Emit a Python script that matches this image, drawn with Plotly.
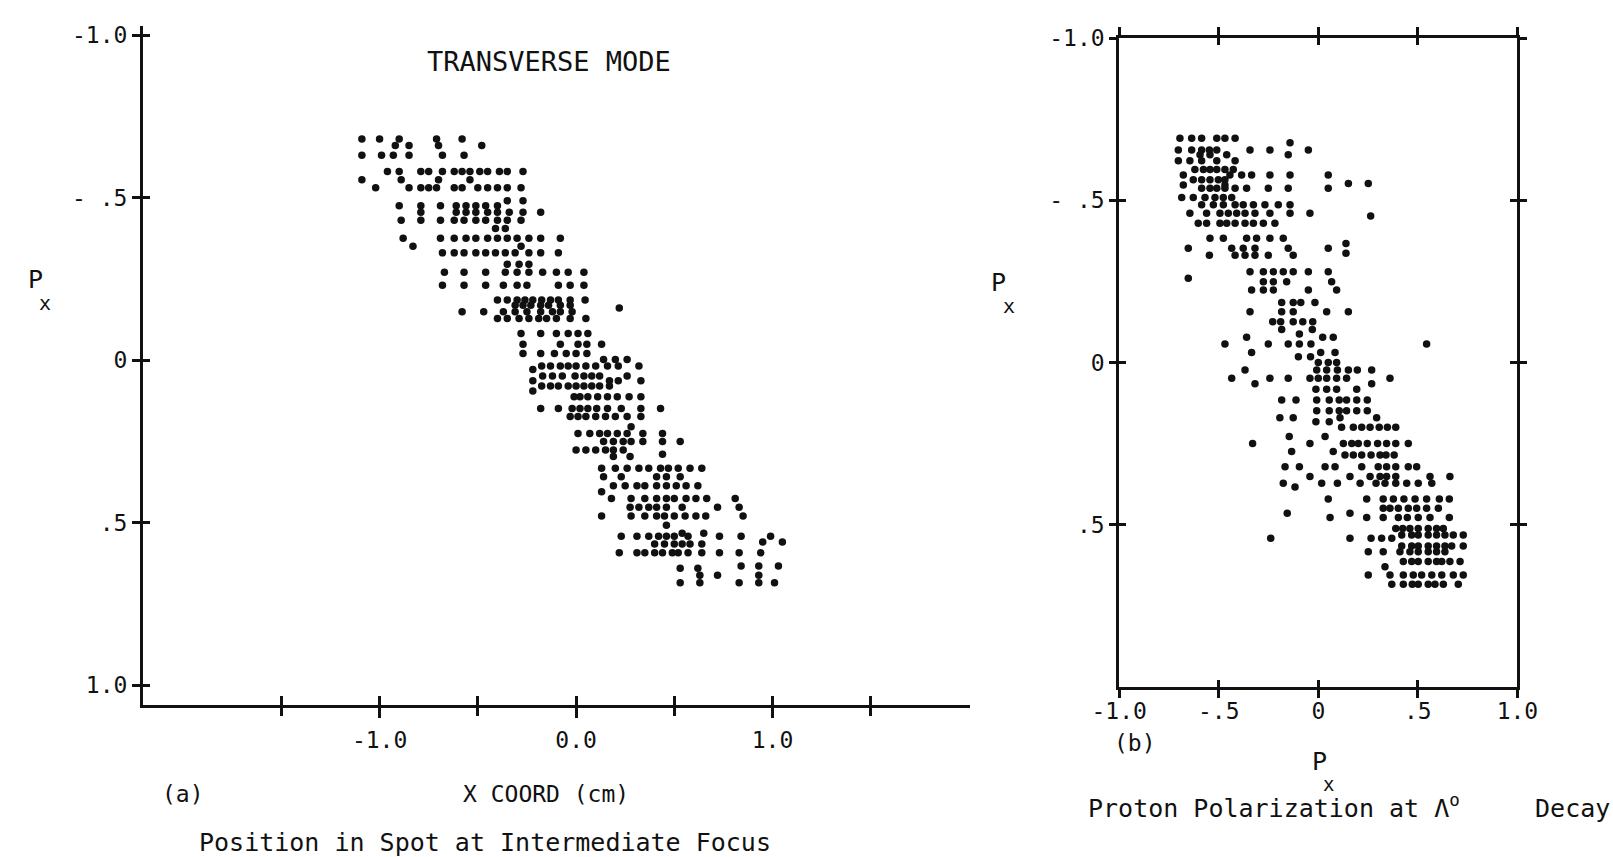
import plotly.graph_objects as go

FONT = "DejaVu Sans Mono"
INK = "#111111"

# ---- Panel (a): P_x versus X coordinate at the intermediate focus ----
# Each row: one P_x value and the X coordinates (cm) of the points on it.
left_row_px = [
    -0.68, -0.66, -0.63, -0.58, -0.555, -0.53, -0.49, -0.475, -0.455, -0.43,
    -0.405, -0.375, -0.35, -0.33, -0.295, -0.27, -0.23, -0.185, -0.169, -0.16,
    -0.149, -0.128, -0.082, -0.049, -0.020, -0.002, 0.018, 0.029, 0.049, 0.064,
    0.080, 0.095, 0.113, 0.149, 0.174, 0.205, 0.226, 0.251, 0.277, 0.290,
    0.297, 0.333, 0.359, 0.387, 0.405, 0.426, 0.453, 0.480, 0.508, 0.533,
    0.542, 0.56, 0.566, 0.593, 0.634, 0.641, 0.662, 0.685,
]
left_row_x = [
    [-1.09, -1.00, -0.90, -0.71, -0.58],
    [-0.92, -0.85, -0.70, -0.48],
    [-1.09, -0.99, -0.93, -0.85, -0.68, -0.57],
    [-0.96, -0.90, -0.79, -0.75, -0.68, -0.62, -0.58, -0.54, -0.49, -0.45, -0.39, -0.35, -0.27],
    [-1.09, -0.89, -0.70, -0.54],
    [-1.02, -0.85, -0.79, -0.75, -0.71, -0.62, -0.58, -0.50, -0.45, -0.40, -0.35, -0.28],
    [-0.35, -0.27],
    [-0.90, -0.79, -0.69, -0.61, -0.56, -0.51, -0.46, -0.40],
    [-0.79, -0.61, -0.56, -0.51, -0.45, -0.40, -0.34, -0.27, -0.18],
    [-0.89, -0.79, -0.69, -0.62, -0.57, -0.51, -0.46, -0.40, -0.35, -0.28],
    [-0.41, -0.36],
    [-0.88, -0.69, -0.62, -0.56, -0.51, -0.45, -0.40, -0.35, -0.30, -0.24, -0.18, -0.08],
    [-0.83, -0.28],
    [-0.68, -0.62, -0.57, -0.51, -0.46, -0.41, -0.36, -0.31, -0.24, -0.18, -0.09],
    [-0.35, -0.29, -0.24],
    [-0.67, -0.57, -0.46, -0.36, -0.30, -0.24, -0.17, -0.10, -0.04, 0.04],
    [-0.68, -0.57, -0.46, -0.37, -0.30, -0.25, -0.09, -0.03, 0.04],
    [-0.40, -0.35, -0.30, -0.26, -0.22, -0.175, -0.13, -0.09, -0.03, 0.046],
    [-0.31, -0.27, -0.23, -0.18, -0.14, -0.08, -0.03],
    [0.22],
    [-0.58, -0.47, -0.37, -0.31, -0.25, -0.18, -0.12, -0.08, -0.02],
    [-0.40, -0.35, -0.29, -0.24, -0.19, -0.15, -0.10, -0.03, 0.05],
    [-0.28, -0.18, -0.10, -0.04, 0.01, 0.06],
    [-0.27, -0.08, 0.01, 0.055, 0.13],
    [-0.27, -0.18, -0.11, -0.05, 0.00, 0.055],
    [0.14, 0.20, 0.26],
    [-0.175, -0.13, -0.08, -0.04, 0.00, 0.05, 0.10, 0.16, 0.215, 0.32],
    [-0.22],
    [-0.17, -0.12, -0.07, -0.005, 0.04, 0.08, 0.12, 0.26],
    [-0.22, 0.17, 0.215, 0.33],
    [-0.175, -0.13, -0.09, -0.04, 0.00, 0.04, 0.08, 0.12, 0.17],
    [-0.22],
    [-0.01, 0.02, 0.06, 0.11, 0.16, 0.21, 0.27, 0.33],
    [-0.18, -0.09, -0.02, 0.02, 0.06, 0.105, 0.16, 0.23, 0.33, 0.43],
    [-0.03, 0.01, 0.05, 0.10, 0.15, 0.20, 0.26, 0.33],
    [0.28],
    [0.01, 0.07, 0.12, 0.16, 0.21, 0.26, 0.34, 0.44],
    [0.14, 0.19, 0.24, 0.28, 0.34, 0.44, 0.53],
    [0.00, 0.05, 0.10, 0.15, 0.19, 0.24],
    [0.44],
    [0.19, 0.275],
    [0.13, 0.20, 0.26, 0.32, 0.37, 0.43, 0.47, 0.52, 0.58, 0.64],
    [0.14, 0.23, 0.41, 0.46, 0.53],
    [0.19, 0.25, 0.31, 0.35, 0.41, 0.46, 0.51, 0.56, 0.62],
    [0.13],
    [0.18, 0.28, 0.35, 0.41, 0.46, 0.50, 0.56, 0.61, 0.665, 0.81],
    [0.275, 0.32, 0.37, 0.41, 0.46, 0.54, 0.72, 0.83],
    [0.13, 0.28, 0.35, 0.41, 0.45, 0.50, 0.555, 0.61, 0.66, 0.85],
    [0.46],
    [0.54, 0.65],
    [0.23, 0.31, 0.37, 0.42, 0.46, 0.50, 0.57, 0.73, 0.84, 0.99],
    [0.95, 1.05],
    [0.40, 0.45, 0.50, 0.54, 0.58, 0.64],
    [0.22, 0.31, 0.35, 0.40, 0.44, 0.49, 0.52, 0.57, 0.64, 0.73, 0.83, 0.94],
    [0.84, 0.93, 1.03],
    [0.53, 0.62],
    [0.63, 0.72, 0.93],
    [0.53, 0.63, 0.83, 0.93, 1.01],
]

# ---- Panel (b): proton polarization P_x at the Lambda decay ----
right_row_py = [
    -0.691, -0.677, -0.655, -0.640, -0.622, -0.595, -0.578, -0.563, -0.552, -0.547,
    -0.537, -0.509, -0.486, -0.460, -0.452, -0.429, -0.383, -0.367, -0.352, -0.337,
    -0.331, -0.280, -0.260, -0.249, -0.224, -0.185, -0.157, -0.126, -0.102, -0.088,
    -0.078, -0.057, -0.031, -0.018, 0.000, 0.023, 0.048, 0.065, 0.082, 0.115,
    0.148, 0.170, 0.182, 0.199, 0.228, 0.249, 0.274, 0.285, 0.321, 0.351,
    0.372, 0.383, 0.420, 0.449, 0.464, 0.477, 0.511, 0.531, 0.541, 0.565,
    0.583, 0.613, 0.629, 0.654, 0.683,
]
right_row_px = [
    [-0.695, -0.636, -0.586, -0.510, -0.469, -0.418],
    [-0.142],
    [-0.703, -0.636, -0.586, -0.547, -0.510, -0.343, -0.243, -0.050],
    [-0.594, -0.544, -0.460, -0.151],
    [-0.703, -0.645, -0.586, -0.510, -0.418],
    [-0.620, -0.577, -0.544, -0.510, -0.469, -0.427],
    [-0.678, -0.444, -0.385, -0.335, -0.243, -0.142, 0.050],
    [-0.628, -0.586, -0.544, -0.502, -0.469],
    [0.151, 0.251],
    [-0.678, -0.469],
    [-0.586, -0.544, -0.510, -0.469, -0.418, -0.360, -0.251, -0.151, 0.050],
    [-0.686, -0.628, -0.569, -0.519, -0.477, -0.435],
    [-0.586, -0.527, -0.477, -0.418, -0.377, -0.326, -0.268, -0.201, -0.142],
    [-0.645, -0.561, -0.494, -0.452, -0.410, -0.368, -0.318, -0.243, -0.142, -0.042],
    [0.263],
    [-0.603, -0.561, -0.494, -0.460, -0.418, -0.368, -0.326, -0.276, -0.218],
    [-0.544, -0.477, -0.360, -0.310, -0.243, -0.176],
    [0.139],
    [-0.653, -0.435, -0.377, -0.318, -0.151, 0.050],
    [0.139],
    [-0.547, -0.418, -0.368, -0.318, -0.251, -0.126],
    [-0.343, -0.276, -0.226, -0.176, -0.126, -0.050, 0.050],
    [-0.653],
    [-0.276, -0.226, -0.159, 0.067],
    [-0.335, -0.276, -0.226, -0.050, 0.092],
    [-0.184, -0.126, -0.088, -0.017],
    [-0.343, -0.184, -0.126, 0.042, 0.151],
    [-0.229, -0.189, -0.126, -0.078, -0.028],
    [-0.184, -0.030],
    [-0.095],
    [-0.360, 0.022, 0.075],
    [-0.469, -0.251, -0.151, -0.095, -0.037, 0.544],
    [-0.335, 0.012, 0.084],
    [-0.100, -0.039],
    [0.000, 0.050, 0.092],
    [-0.368, -0.008, 0.042, 0.096, 0.151, 0.196, 0.268],
    [-0.435, -0.243, -0.151, -0.042, 0.000, 0.042, 0.092, 0.142, 0.360],
    [-0.318, 0.268],
    [-0.012, 0.042, 0.092, 0.193],
    [-0.184, -0.112, -0.008, 0.055, 0.105, 0.142, 0.193, 0.246],
    [-0.008, 0.055, 0.105, 0.142, 0.193, 0.246],
    [-0.193, -0.126, 0.109, 0.293],
    [-0.012, 0.055],
    [0.117, 0.176, 0.218, 0.260, 0.306, 0.347, 0.389],
    [-0.146, 0.034],
    [-0.330, -0.042, 0.126, 0.168, 0.201, 0.246, 0.298, 0.343, 0.389, 0.452],
    [-0.134, 0.075],
    [0.134, 0.176, 0.218, 0.265, 0.310, 0.340, 0.381],
    [-0.167, -0.095, 0.034, 0.084, 0.218, 0.301, 0.343, 0.389, 0.452, 0.494],
    [-0.042, 0.159, 0.260, 0.310, 0.343, 0.389, 0.561, 0.661],
    [-0.176, 0.017, 0.096, 0.210, 0.290, 0.335, 0.389, 0.444, 0.502, 0.570],
    [-0.117],
    [0.050, 0.243, 0.326, 0.377, 0.430, 0.486, 0.544, 0.608, 0.658],
    [0.326, 0.360, 0.402, 0.452, 0.494, 0.544, 0.603],
    [-0.156, 0.159],
    [0.059, 0.243, 0.326, 0.402, 0.447, 0.502, 0.561, 0.658],
    [0.389, 0.424, 0.460, 0.502, 0.552, 0.594, 0.628],
    [0.419, 0.469, 0.502, 0.552, 0.594, 0.636, 0.678, 0.728],
    [-0.239, 0.159, 0.265, 0.318, 0.369],
    [0.419, 0.469, 0.502, 0.552, 0.594, 0.636, 0.670, 0.728],
    [0.251, 0.326, 0.410, 0.460, 0.502, 0.552, 0.594, 0.636],
    [0.427, 0.469, 0.502, 0.552, 0.594, 0.620, 0.661, 0.712],
    [0.335],
    [0.251, 0.360, 0.427, 0.477, 0.519, 0.570, 0.620, 0.678, 0.728],
    [0.369, 0.427, 0.472, 0.502, 0.552, 0.586, 0.628, 0.703],
]

# Tick positions and labels
left_xtick_marks = [-1.5, -1.0, -0.5, 0.0, 0.5, 1.0, 1.5]
left_xtick_vals = [-1.0, 0.0, 1.0]
left_xtick_text = ["-1.0", "0.0", "1.0"]
left_ytick_vals = [-1.0, -0.5, 0.0, 0.5, 1.0]
left_ytick_text = ["-1.0", "- .5", "0", ".5", "1.0"]
right_xtick_vals = [-1.0, -0.5, 0.0, 0.5, 1.0]
right_xtick_text = ["-1.0", "-.5", "0", ".5", "1.0"]
right_ytick_vals = [-1.0, -0.5, 0.0, 0.5]
right_ytick_text = ["-1.0", "- .5", "0", ".5"]
right_inner_ticks = [-0.5, 0.0, 0.5]


def flatten(row_vals, row_lists):
    xs, ys = [], []
    for v, row in zip(row_vals, row_lists):
        xs.extend(row)
        ys.extend([v] * len(row))
    return xs, ys


lx, ly = flatten(left_row_px, left_row_x)
rx, ry = flatten(right_row_py, right_row_px)

W, H = 1613, 857


def px_x(p):
    return p / W


def px_y(p):
    return 1 - p / H


dot = dict(size=7.5, color=INK, line=dict(width=0))

fig = go.Figure()
fig.add_trace(go.Scatter(x=lx, y=ly, mode="markers", marker=dot,
                         xaxis="x", yaxis="y", showlegend=False, hoverinfo="skip"))
fig.add_trace(go.Scatter(x=rx, y=ry, mode="markers", marker=dot,
                         xaxis="x2", yaxis="y2", showlegend=False, hoverinfo="skip"))
# empty traces that bind the overlay axes carrying the extra tick marks
for xa, ya in [("x3", "y"), ("x5", "y"), ("x", "y3"), ("x4", "y2"), ("x2", "y4")]:
    fig.add_trace(go.Scatter(x=[], y=[], xaxis=xa, yaxis=ya,
                             showlegend=False, hoverinfo="skip"))

tickfont = dict(family=FONT, size=23, color=INK)
common = dict(showgrid=False, zeroline=False, linecolor=INK, tickcolor=INK,
              tickwidth=3, tickfont=tickfont, fixedrange=True, automargin=False)

left_xrange = [-2.204, 2.005]
left_yrange = [1.0606, -1.028]
left_xdom = [px_x(143), px_x(970)]
left_ydom = [px_y(704.7), px_y(26)]
right_xdom = [px_x(1119.2), px_x(1517.4)]
right_ydom = [px_y(687.2), px_y(38)]

fig.update_layout(
    template="none",
    width=W, height=H,
    margin=dict(l=0, r=0, t=0, b=0, pad=0),
    paper_bgcolor="white", plot_bgcolor="rgba(0,0,0,0)",
    font=dict(family=FONT, color=INK),
    showlegend=False,
    xaxis=dict(domain=left_xdom, range=left_xrange, anchor="y",
               showline=True, linewidth=3, ticks="outside", ticklen=10,
               tickvals=left_xtick_vals, ticktext=left_xtick_text,
               ticklabelstandoff=3, **common),
    xaxis5=dict(overlaying="x", anchor="y", range=left_xrange,
                showline=False, ticks="outside", ticklen=10,
                tickvals=left_xtick_marks, showticklabels=False, **common),
    xaxis3=dict(overlaying="x", anchor="y", range=left_xrange,
                showline=False, ticks="inside", ticklen=9,
                tickvals=left_xtick_marks, showticklabels=False, **common),
    yaxis=dict(domain=left_ydom, range=left_yrange, anchor="x",
               showline=True, linewidth=3, ticks="outside", ticklen=8,
               tickvals=left_ytick_vals, ticktext=left_ytick_text,
               ticklabelstandoff=0, **common),
    yaxis3=dict(overlaying="y", anchor="x", side="left", range=left_yrange,
                showline=False, ticks="inside", ticklen=7,
                tickvals=left_ytick_vals, showticklabels=False, **common),
    xaxis2=dict(domain=right_xdom, range=[-1, 1], anchor="y2",
                showline=True, linewidth=3, mirror="ticks", ticks="outside",
                ticklen=8, tickvals=right_xtick_vals, ticktext=right_xtick_text,
                ticklabelstandoff=-7, **common),
    yaxis2=dict(domain=right_ydom, range=[1, -1], anchor="x2",
                showline=True, linewidth=3, mirror="ticks", ticks="outside",
                ticklen=7, tickvals=right_ytick_vals, ticktext=right_ytick_text,
                ticklabelstandoff=0, **common),
    xaxis4=dict(overlaying="x2", anchor="y2", range=[-1, 1],
                showline=True, linewidth=3, mirror="ticks", ticks="inside",
                ticklen=7, tickvals=right_inner_ticks, showticklabels=False, **common),
    yaxis4=dict(overlaying="y2", anchor="x2", side="left", range=[1, -1],
                showline=True, linewidth=3, mirror="ticks", ticks="inside",
                ticklen=7, tickvals=right_inner_ticks, showticklabels=False, **common),
)


def label(text, fx, fy, size=24, xanchor="center"):
    fig.add_annotation(text=text, x=px_x(fx), y=px_y(fy), xref="paper", yref="paper",
                       xanchor=xanchor, yanchor="middle", showarrow=False,
                       borderpad=0, font=dict(family=FONT, size=size, color=INK))


# panel (a) texts
label("TRANSVERSE MODE", 549, 62, size=27)
label("P", 35, 280, size=25)
label("x", 45, 303, size=20)
label("(a)", 183, 794, size=23)
label("X COORD (cm)", 546, 794, size=23)
label("Position in Spot at Intermediate Focus", 485, 842, size=25)

# panel (b) texts
label("P", 998, 282, size=25)
label("x", 1009, 306, size=20)
label("(b)", 1135, 743, size=23)
label("P", 1319, 761, size=25)
label("x", 1328, 784, size=19)
label("Proton Polarization at \u039b<sup>o</sup>\u00a0\u00a0\u00a0\u00a0 Decay", 1087, 806,
      size=25, xanchor="left")

fig.write_html("out.html", config={"displayModeBar": False})
